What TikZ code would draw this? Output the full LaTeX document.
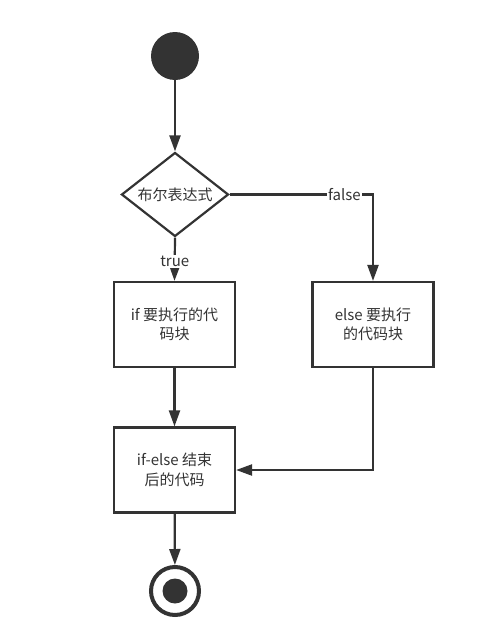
\documentclass[tikz,border=0pt]{standalone}
\usepackage{fontspec}
\setmainfont{Noto Sans CJK SC}
\usetikzlibrary{shapes.geometric,arrows.meta}
\definecolor{ink}{HTML}{333333}
\tikzset{
  line/.style={draw=ink,line width=2.2pt,-{Triangle[length=16pt,width=11pt]}},
  box/.style={draw=ink,line width=2.2pt,minimum width=121pt,minimum height=85pt,inner sep=0pt,align=center,font=\fontsize{15}{19.5}\selectfont,text=ink},
  cond/.style={draw=ink,line width=2.2pt,diamond,minimum width=107pt,minimum height=84pt,inner sep=0pt,font=\fontsize{15}{18}\selectfont,text=ink,aspect=1.27},
  lbl/.style={fill=white,inner sep=1.5pt,font=\fontsize{15}{18}\selectfont,text=ink},
}
\begin{document}
\begin{tikzpicture}[x=1pt,y=-1pt]
\useasboundingbox (0,0) rectangle (500,632);
\node[circle,fill=ink,minimum size=48pt,inner sep=0pt] (start) at (175,56) {};
\node[cond] (c) at (175,194.5) {布尔表达式};
\node[box] (ifb) at (174.5,324.5) {if 要执行的代\\码块};
\node[box] (elseb) at (373,324.5) {else 要执行\\的代码块};
\node[box] (endb) at (174.5,470) {if-else 结束\\后的代码};
\node[circle,draw=ink,line width=4pt,minimum size=48pt,inner sep=0pt] (stop) at (175,591) {};
\node[circle,fill=ink,minimum size=25pt,inner sep=0pt] (stopin) at (175,591) {};
\coordinate (fc) at (373,194.5);
\coordinate (ec) at (373,470);
\draw[line] (start) -- (c);
\draw[line] (c.south) -- node[lbl,pos=0.55] {true} (ifb.north);
\draw[line] (c.east) -- node[lbl,pos=0.8] {false} (fc) -- (elseb.north);
\draw[line] (ifb) -- (endb);
\draw[line] (elseb.south) -- (ec) -- (endb.east);
\draw[line] (endb) -- (stop);
\end{tikzpicture}
\end{document}
